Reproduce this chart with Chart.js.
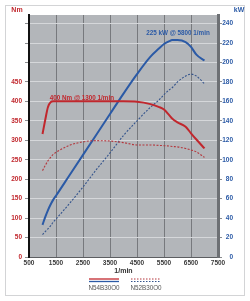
<!DOCTYPE html>
<html>
<head>
<meta charset="utf-8">
<script src="https://cdn.jsdelivr.net/npm/chart.js@4.4.1/dist/chart.umd.min.js"></script>
<style>
html, body { margin: 0; padding: 0; background: #fff; }
#chart { display: block; }
</style>
</head>
<body>
<canvas id="chart" width="250" height="301"></canvas>
<script>
// engine speed (1/min)
let Rpm = [1000,1100,1200,1300,1400,1500,2000,2500,3000,3500,4000,4500,5000,5300,5500,5700,5800,6000,6300,6500,6700,7000];
// torque (Nm)
let TorqueN54 = [316,352,385,398,400,400,400,400,400,400,400,399,393,386,379,364,356,346,335,318,302,279];
let TorqueN52 = [222,235,247,256,264,269,287,296,299,298,294,288,288,287,286,285,284,283,279,275,270,256];
// power (kW)
let PowerN54 = [33,41,48,54,59,63,84,105,126,147,168,188,206,214,219,222,223,223,221,216,208,202];
let PowerN52 = [23,26,29,32,36,39,55,72,90,107,125,140,154,161,167,172,174,180,186,188,186,178];

let RpmTicks = [500,1500,2500,3500,4500,5500,6500,7500];
let Engines = ["N54B30O0", "N52B30O0"];

const red = "#c1272d";
const redDot = "#b4373d";
const blue = "#2b5aa6";
const blueDot = "#34548c";
const plotGray = "#b3b6ba";
const font = "'Liberation Sans', Arial, sans-serif";

function points(xs, ys){
    return xs.map((x, i) => ({x: x, y: ys[i]}));
}

const decor = {
    id: "decor",
    beforeDraw(chart){
        const c = chart.ctx, a = chart.chartArea;
        c.save();
        c.fillStyle = "#fff";
        c.fillRect(0, 0, chart.width, chart.height);
        c.strokeStyle = "#d3d4d6";
        c.lineWidth = 1;
        c.strokeRect(5.5, 5.5, 239, 290);
        c.fillStyle = plotGray;
        c.fillRect(a.left, a.top, a.right - a.left, a.bottom - a.top);
        c.restore();
    },
    afterDraw(chart){
        const c = chart.ctx;
        const x = chart.scales.x, yNm = chart.scales.yNm, ykW = chart.scales.ykW;
        c.save();
        c.textBaseline = "middle";
        c.font = "bold 7px " + font;
        c.fillStyle = red;
        c.textAlign = "center";
        c.fillText("Nm", 17, 10);
        c.fillStyle = blue;
        c.fillText("kW", 239, 10);

        // peak annotations
        c.font = "bold 6.3px " + font;
        c.fillStyle = red;
        c.fillText("400 Nm @ 1300 1/min", x.getPixelForValue(2460), yNm.getPixelForValue(408));
        c.fillStyle = blue;
        c.fillText("225 kW @ 5800 1/min", x.getPixelForValue(6020), ykW.getPixelForValue(230));

        // legend
        c.lineWidth = 1.3;
        c.strokeStyle = red;
        c.beginPath(); c.moveTo(89, 279); c.lineTo(119, 279); c.stroke();
        c.strokeStyle = blue;
        c.beginPath(); c.moveTo(89, 281.5); c.lineTo(119, 281.5); c.stroke();
        c.lineWidth = 1;
        c.setLineDash([1.5, 1.5]);
        c.strokeStyle = redDot;
        c.beginPath(); c.moveTo(131, 279); c.lineTo(161, 279); c.stroke();
        c.strokeStyle = blueDot;
        c.beginPath(); c.moveTo(131, 281.5); c.lineTo(161, 281.5); c.stroke();
        c.setLineDash([]);
        c.font = "6.3px " + font;
        c.fillStyle = "#555";
        c.fillText(Engines[0], 104, 288);
        c.fillText(Engines[1], 146, 288);
        c.restore();
    }
};

new Chart("chart", {
    type: "line",
    data: {
        datasets: [{
            label: Engines[0] + " Nm",
            data: points(Rpm, TorqueN54),
            yAxisID: "yNm",
            borderColor: red,
            borderWidth: 2
        }, {
            label: Engines[1] + " Nm",
            data: points(Rpm, TorqueN52),
            yAxisID: "yNm",
            borderColor: redDot,
            borderWidth: 1.1,
            borderDash: [2, 1.5]
        }, {
            label: Engines[0] + " kW",
            data: points(Rpm, PowerN54),
            yAxisID: "ykW",
            borderColor: blue,
            borderWidth: 2
        }, {
            label: Engines[1] + " kW",
            data: points(Rpm, PowerN52),
            yAxisID: "ykW",
            borderColor: blueDot,
            borderWidth: 1.1,
            borderDash: [2, 1.5]
        }]
    },
    options: {
        responsive: false,
        animation: false,
        elements: {
            point: {radius: 0},
            line: {cubicInterpolationMode: "monotone"}
        },
        layout: {padding: {left: 0, right: 17, top: 15, bottom: 26}},
        plugins: {
            legend: {display: false},
            tooltip: {enabled: false}
        },
        scales: {
            x: {
                type: "linear",
                position: "bottom",
                min: 500,
                max: 7500,
                afterBuildTicks: s => { s.ticks = RpmTicks.map(v => ({value: v})); },
                afterFit: s => { s.height = 18; },
                ticks: {
                    color: "#3a3a3a",
                    font: {family: font, size: 6.5, weight: "bold"},
                    padding: 2,
                    maxRotation: 0,
                    autoSkip: false,
                    callback: v => String(v)
                },
                grid: {color: "#77797d", drawTicks: false},
                border: {color: "#5c5e61", width: 1},
                title: {
                    display: true,
                    text: "1/min",
                    color: "#333",
                    font: {family: font, size: 7, weight: "bold"},
                    padding: {top: 0, bottom: 0}
                }
            },
            yNm: {
                type: "linear",
                position: "left",
                min: 0,
                max: 622,
                afterFit: s => { s.width = 29; },
                ticks: {
                    stepSize: 50,
                    includeBounds: false,
                    color: red,
                    font: {family: font, size: 6.5, weight: "bold"},
                    padding: 3,
                    callback: v => (v <= 450 ? String(v) : "")
                },
                grid: {color: "#d5d7da", tickColor: "#8a8c8f", tickLength: 4},
                border: {color: "#111", width: 2}
            },
            ykW: {
                type: "linear",
                position: "right",
                min: 0,
                max: 248.8,
                afterFit: s => { s.width = 15; },
                ticks: {
                    stepSize: 20,
                    includeBounds: false,
                    color: blue,
                    crossAlign: "far",
                    font: {family: font, size: 6.5, weight: "bold"},
                    padding: -9
                },
                grid: {drawOnChartArea: false, tickColor: "#8a8c8f", tickLength: 4},
                border: {color: "#6d7074", width: 3}
            }
        }
    },
    plugins: [decor]
});
</script>
</body>
</html>
